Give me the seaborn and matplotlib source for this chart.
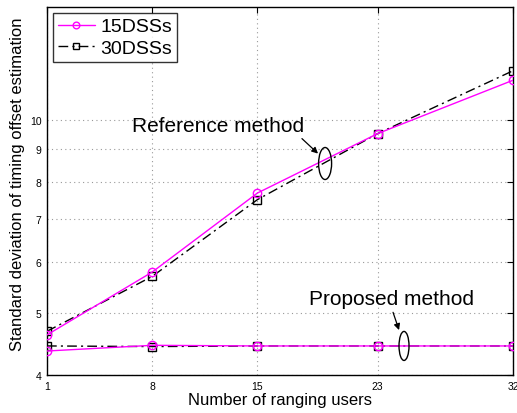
import matplotlib
matplotlib.use("Agg")
import matplotlib.pyplot as plt
from matplotlib.patches import Ellipse
from matplotlib.transforms import ScaledTranslation
from matplotlib.ticker import NullLocator, FixedLocator, FixedFormatter
import seaborn as sns
import pandas as pd

users = [1, 8, 15, 23, 32]
ref_15 = [4.62, 5.79, 7.69, 9.52, 11.53]
ref_30 = [4.68, 5.70, 7.51, 9.52, 11.93]
prop_15 = [4.36, 4.45, 4.44, 4.44, 4.44]
prop_30 = [4.44, 4.43, 4.44, 4.44, 4.44]
yticks = [4, 5, 6, 7, 8, 9, 10]

sns.set_theme(style="white")
plt.rcParams['font.family'] = ['Liberation Sans', 'DejaVu Sans']
plt.rcParams['text.color'] = 'black'
plt.rcParams['axes.labelcolor'] = 'black'

fig = plt.figure(figsize=(5.17, 4.14), dpi=100)
ax = fig.add_axes([47/517, 1 - 376/414, (513-47)/517, (376-8)/414])

def draw(y, color, marker, ls, label, z):
    df = pd.DataFrame({"x": users, "y": y})
    sns.lineplot(data=df, x="x", y="y", ax=ax, color=color, marker=marker,
                 linestyle=ls, linewidth=1.0, markersize=6, markerfacecolor="none",
                 markeredgecolor=color, markeredgewidth=1.0, label=label, zorder=z)

dashdot = (0, (7, 3, 1.5, 3))
draw(ref_15, "#ff00ff", "o", "-", "15DSSs", 3)
draw(ref_30, "black", "s", dashdot, "30DSSs", 2)
draw(prop_15, "#ff00ff", "o", "-", None, 3)
draw(prop_30, "black", "s", dashdot, None, 2)

ax.set_yscale("log")
ax.set_xlim(1, 32)
ax.set_ylim(4, 15)
ax.yaxis.set_major_locator(FixedLocator(yticks))
ax.yaxis.set_major_formatter(FixedFormatter([str(t) for t in yticks]))
ax.yaxis.set_minor_locator(NullLocator())
ax.set_xticks(users)
ax.set_xticklabels([str(u) for u in users])
ax.tick_params(direction="in", length=4, width=0.8, labelsize=7.5, top=True, right=True,
               colors="black", pad=4)
for s in ax.spines.values():
    s.set_color("black")
    s.set_linewidth(1.0)
ax.grid(True, which="major", color="#999999", linestyle=(0, (1, 3)), linewidth=0.8)

ax.set_xlabel("Number of ranging users", fontsize=12, labelpad=1)
ax.set_ylabel("Standard deviation of timing offset estimation", fontsize=12)
ax.yaxis.set_label_coords(-0.048, 0.522)

leg = ax.legend(loc="upper left", fontsize=14, frameon=True, fancybox=False,
                handlelength=1.9, handletextpad=0.3, borderpad=0.25, labelspacing=0.2,
                borderaxespad=0.3, markerscale=0.8)
leg.get_frame().set_edgecolor("black")
leg.get_frame().set_linewidth(1.0)

def ellipse(xc, yc, w_in, h_in):
    tr = fig.dpi_scale_trans + ScaledTranslation(xc, yc, ax.transData)
    ax.add_patch(Ellipse((0, 0), width=w_in, height=h_in, fill=False,
                         edgecolor="black", lw=1.0, transform=tr, zorder=5, clip_on=False))

ellipse(19.5, 8.55, 0.13, 0.32)
ellipse(24.75, 4.44, 0.10, 0.29)

arrow = dict(arrowstyle="-|>", color="black", lw=0.9, mutation_scale=9, shrinkA=0, shrinkB=0)
ax.text(12.37, 9.79, "Reference method", fontsize=15, ha="center", va="center")
ax.annotate("", xy=(19.03, 8.86), xytext=(17.96, 9.35), arrowprops=arrow)
ax.text(23.95, 5.26, "Proposed method", fontsize=15, ha="center", va="center")
ax.annotate("", xy=(24.42, 4.70), xytext=(24.02, 5.01), arrowprops=arrow)

fig.savefig("out.png", dpi=100)
